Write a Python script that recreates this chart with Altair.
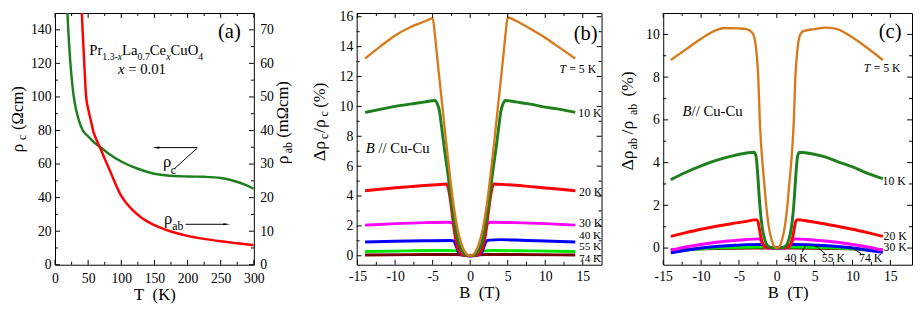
import altair as alt
import pandas as pd

FONT = "Liberation Serif"

# ---------------- panel (a): resistivity vs T ----------------
a_T_c = [18.5, 19, 20, 21, 23, 25, 28, 32, 36, 42, 50, 58, 67, 80, 100, 125, 150, 175, 200, 225, 250, 265, 280, 290, 300]
a_rho_c = [153, 148, 140, 133, 121, 112, 101, 92, 86, 80, 76.5, 73.3, 70.5, 66.5, 61.5, 57.2, 54.2, 53.0, 52.6, 52.4, 51.7, 50.5, 48.7, 47.1, 45.3]
a_T_ab = [40, 41, 42, 44, 47, 50, 54, 58, 62, 67, 75, 85, 100, 115, 130, 150, 175, 200, 225, 250, 275, 300]
a_rho_ab = [77, 72.5, 68.5, 60.5, 50, 46.5, 43, 39.6, 37.5, 35.3, 31.6, 27, 20.5, 16.7, 14.1, 11.8, 9.9, 8.6, 7.7, 7.0, 6.4, 5.8]

# ---------------- panel (b): d rho_c / rho_c (%) vs B ----------------
b5_B = [-14, -12, -10, -8, -6, -5.0, -4.7, -4.4, -4.0, -3.6, -3.2, -2.8, -2.4, -2.0, -1.6, -1.2, -0.8, -0.4, 0, 0.4, 0.8, 1.2, 1.6, 2.0, 2.4, 2.8, 3.2, 3.6, 4.0, 4.4, 4.7, 5.0, 6, 8, 10, 12, 14]
b5_v = [13.2, 14.0, 14.75, 15.3, 15.7, 15.9, 14.8, 13.3, 11.4, 9.5, 7.6, 5.8, 4.1, 2.7, 1.6, 0.85, 0.35, 0.08, 0, 0.08, 0.35, 0.85, 1.6, 2.7, 4.1, 5.8, 7.6, 9.5, 11.4, 13.3, 14.8, 15.95, 15.75, 15.2, 14.6, 13.9, 13.2]
b10_B = [-14, -12, -10, -8, -6, -4.7, -4.4, -4.1, -3.8, -3.5, -3.0, -2.5, -2.0, -1.5, -1.0, -0.5, 0, 0.5, 1.0, 1.5, 2.0, 2.5, 3.0, 3.5, 3.8, 4.1, 4.4, 4.7, 6, 8, 10, 12, 14]
b10_v = [9.6, 9.8, 10.0, 10.15, 10.3, 10.4, 10.2, 9.7, 8.6, 7.4, 5.6, 3.6, 1.9, 0.8, 0.25, 0.03, 0, 0.03, 0.25, 0.8, 1.9, 3.6, 5.6, 7.4, 8.6, 9.7, 10.2, 10.4, 10.3, 10.15, 9.95, 9.8, 9.6]
b20_B = [-14, -12, -10, -8, -6, -4, -3.2, -2.9, -2.6, -2.3, -2.0, -1.7, -1.3, -0.8, 0, 0.8, 1.3, 1.7, 2.0, 2.3, 2.6, 2.9, 3.2, 4, 6, 8, 10, 12, 14]
b20_v = [4.35, 4.45, 4.55, 4.63, 4.71, 4.77, 4.8, 4.5, 3.6, 2.4, 1.3, 0.6, 0.18, 0.03, 0, 0.03, 0.18, 0.6, 1.3, 2.4, 3.6, 4.5, 4.8, 4.78, 4.72, 4.63, 4.54, 4.45, 4.35]
b30_B = [-14, -10, -6, -3, -2.4, -2.1, -1.8, -1.5, -1.1, -0.6, 0, 0.6, 1.1, 1.5, 1.8, 2.1, 2.4, 3, 6, 10, 14]
b30_v = [2.05, 2.15, 2.22, 2.25, 2.2, 1.8, 1.0, 0.4, 0.1, 0.02, 0, 0.02, 0.1, 0.4, 1.0, 1.8, 2.2, 2.25, 2.22, 2.15, 2.05]
b40_B = [-14, -10, -6, -2.6, -2.2, -1.9, -1.6, -1.2, -0.7, 0, 0.7, 1.2, 1.6, 1.9, 2.2, 2.6, 4, 6, 10, 14]
b40_v = [0.92, 0.97, 1.0, 1.02, 1.0, 0.7, 0.3, 0.08, 0.01, 0, 0.01, 0.08, 0.3, 0.7, 1.0, 1.05, 1.08, 1.05, 0.99, 0.92]
b55_B = [-14, -8, -3, -1.8, -1.4, -1.0, -0.5, 0, 0.5, 1.0, 1.4, 1.8, 3, 8, 14]
b55_v = [0.28, 0.33, 0.35, 0.33, 0.2, 0.06, 0.01, 0, 0.01, 0.06, 0.2, 0.33, 0.35, 0.33, 0.28]
b74_B = [-14, -6, -2, -1.2, -0.6, 0, 0.6, 1.2, 2, 6, 14]
b74_v = [0.05, 0.08, 0.08, 0.06, 0.01, 0, 0.01, 0.06, 0.08, 0.08, 0.05]

# ---------------- panel (c): d rho_ab / rho_ab (%) vs B ----------------
c5_B = [-14, -12, -10, -8, -7, -5, -4, -3.3, -3.0, -2.7, -2.45, -2.25, -2.1, -1.9, -1.65, -1.4, -1.1, -0.7, -0.35, 0, 0.35, 0.7, 1.1, 1.4, 1.65, 1.9, 2.1, 2.25, 2.45, 2.7, 3.0, 3.5, 5, 6.5, 8, 10, 12, 14]
c5_v = [8.8, 9.3, 9.8, 10.2, 10.3, 10.28, 10.25, 10.1, 9.9, 9.2, 8.0, 6.0, 5.0, 4.0, 3.0, 2.0, 1.1, 0.4, 0.08, 0, 0.08, 0.4, 1.1, 2.0, 3.0, 4.0, 5.0, 6.0, 8.0, 9.2, 9.9, 10.15, 10.25, 10.32, 10.25, 9.85, 9.35, 8.8]
c10_B = [-14, -12, -10, -8, -6, -4, -3.0, -2.75, -2.55, -2.4, -2.24, -2.05, -1.8, -1.5, -1.1, -0.6, 0, 0.6, 1.1, 1.5, 1.8, 2.05, 2.24, 2.4, 2.55, 2.75, 3.0, 4, 6, 8, 10, 12, 14]
c10_v = [3.2, 3.55, 3.85, 4.1, 4.3, 4.45, 4.48, 4.3, 3.6, 2.8, 2.0, 1.3, 0.7, 0.3, 0.08, 0.01, 0, 0.01, 0.08, 0.3, 0.7, 1.3, 2.0, 2.8, 3.6, 4.3, 4.48, 4.45, 4.3, 4.05, 3.8, 3.5, 3.25]
c20_B = [-14, -12, -10, -8, -6, -4, -2.7, -2.5, -2.3, -2.1, -1.9, -1.6, -1.2, 0, 1.2, 1.6, 1.9, 2.1, 2.3, 2.5, 2.7, 4, 6, 8, 10, 12, 14]
c20_v = [0.55, 0.72, 0.88, 1.02, 1.14, 1.25, 1.33, 1.25, 0.9, 0.5, 0.25, 0.08, 0.02, 0, 0.02, 0.08, 0.25, 0.5, 0.9, 1.25, 1.33, 1.27, 1.15, 1.02, 0.88, 0.72, 0.55]
c30_B = [-14, -12, -10, -8, -6, -4, -2.4, -2.1, -1.8, -1.5, -1.0, 0, 1.0, 1.5, 1.8, 2.1, 2.4, 4, 6, 8, 10, 12, 14]
c30_v = [-0.1, 0.05, 0.17, 0.27, 0.34, 0.4, 0.43, 0.35, 0.15, 0.04, 0.0, 0, 0.0, 0.04, 0.15, 0.35, 0.43, 0.4, 0.34, 0.27, 0.17, 0.05, -0.1]
c40_B = [-14, -12, -10, -8, -6, -4, -2, -1.6, -1.2, 0, 1.2, 1.6, 2, 4, 6, 8, 10, 12, 14]
c40_v = [-0.22, -0.1, 0.0, 0.07, 0.12, 0.16, 0.17, 0.1, 0.02, 0, 0.02, 0.1, 0.17, 0.16, 0.12, 0.07, 0.0, -0.1, -0.2]
c55_B = [-14, -10, -6, -2, -1, 0, 1, 2, 6, 10, 14]
c55_v = [-0.15, -0.03, 0.03, 0.05, 0.02, 0, 0.02, 0.05, 0.03, -0.03, -0.13]
c74_B = [-14, -8, -2, 0, 2, 8, 14]
c74_v = [-0.08, -0.02, 0.0, 0, 0.0, -0.02, -0.08]

# curve labels (text, B, value)
b_lab_text = ["10 K", "20 K", "30 K"]
b_lab_B = [14.4, 14.5, 14.5]
b_lab_v = [9.53, 4.24, 2.2]
b_lab2_text = ["40 K", "55 K", "74 K"]
b_lab2_B = [14.5, 14.5, 14.5]
b_lab2_v = [1.32, 0.56, -0.22]
b_T5_pos = [11.9, 12.5]

c_lab_text = ["10 K", "20 K", "30 K", "40 K", "55 K", "74 K"]
c_lab_B = [13.97, 14.1, 14.1, 1.03, 5.95, 10.87]
c_lab_v = [3.13, 0.58, 0.04, -0.48, -0.48, -0.48]
c_T5_pos = [11.5, 8.41]

# pointer arrows in (c): start (B, v) -> end (B, v)
c_arr_B1 = [3.36, 6.38, 11.13]
c_arr_v1 = [-0.18, -0.26, -0.26]
c_arr_B2 = [3.79, 5.08, 9.75]
c_arr_v2 = [0.12, 0.12, 0.05]
c_arr_ang = [27, 310, 302]

# annotation arrows of panel (a): rho_c arrow (two segments) and rho_ab arrow
a_arr_T1 = [179.2, 214.6, 196.9]
a_arr_v1 = [56.9, 69.8, 24.1]
a_arr_T2 = [214.6, 154.0, 257.5]
a_arr_v2 = [69.5, 69.8, 24.1]

COLORS = {"5": "#d77a1c", "10": "#1d7f1d", "20": "#ff0000", "30": "#ff00ff",
          "40": "#0000ff", "55": "#00e600", "74": "#7a0000"}

H = 257  # plot height shared by the three panels


# ---------------- helpers ----------------
def ptext(s, x, y, size, style="normal", angle=0, align="left", baseline="alphabetic"):
    return alt.Chart(pd.DataFrame({"s": [s]})).mark_text(
        font=FONT, fontSize=size, fontStyle=style, angle=angle, align=align,
        baseline=baseline, color="black").encode(x=alt.value(x), y=alt.value(y), text="s:N")


AX = dict(ticks=False, domain=False, grid=False, labelFont=FONT, labelFontSize=14,
          labelColor="black", titleFont=FONT, titleFontSize=17, titleFontWeight="normal",
          titleColor="black", labelExpr="datum.value", labelFlush=False, labelOverlap=False)


def xaxis(vals, title, pad=5):
    return alt.Axis(values=vals, title=title, labelPadding=pad, titlePadding=1, **AX)


def yaxis(vals, orient="left", pad=4):
    return alt.Axis(values=vals, title=None, labelPadding=pad, orient=orient, **AX)


class Panel:
    def __init__(self, xf, xs, xax, yf, ys, yax):
        self.xf, self.xs, self.xax, self.yf, self.ys, self.yax = xf, xs, xax, yf, ys, yax

    def X(self, field=None):
        return alt.X(f"{field or self.xf}:Q", scale=self.xs, axis=self.xax)

    def Y(self, field=None):
        return alt.Y(f"{field or self.yf}:Q", scale=self.ys, axis=self.yax)

    def ticks(self, xvals, yvals, W, Hh):
        layers = []
        for vals, size in xvals:
            base = alt.Chart(pd.DataFrame({self.xf: vals})).mark_rule(color="black", strokeWidth=1)
            layers.append(base.encode(x=self.X(), y=alt.value(Hh), y2=alt.value(Hh - size)))
            layers.append(base.encode(x=self.X(), y=alt.value(0), y2=alt.value(size)))
        for vals, size in yvals:
            base = alt.Chart(pd.DataFrame({self.yf: vals})).mark_rule(color="black", strokeWidth=1)
            layers.append(base.encode(y=self.Y(), x=alt.value(0), x2=alt.value(size)))
            layers.append(base.encode(y=self.Y(), x=alt.value(W), x2=alt.value(W - size)))
        return layers

    def curve(self, xs_, ys_, color, width=3.0):
        df = pd.DataFrame({self.xf: xs_, self.yf: ys_})
        return alt.Chart(df).mark_line(color=color, strokeWidth=width, clip=True,
                                       interpolate="monotone").encode(x=self.X(), y=self.Y())

    def labels(self, texts, xs_, ys_, size=12, style="normal", dx=0, align="left", baseline="middle"):
        df = pd.DataFrame({"t": texts, self.xf: xs_, self.yf: ys_})
        return alt.Chart(df).mark_text(font=FONT, fontSize=size, fontStyle=style, align=align,
                                       baseline=baseline, dx=dx, color="black").encode(
            x=self.X(), y=self.Y(), text="t:N")

    def arrows(self, x1, y1, x2, y2, ang, head_size, heads_from=0):
        df = pd.DataFrame({self.xf: x1, self.yf: y1, "x2": x2, "y2": y2})
        rules = alt.Chart(df).mark_rule(color="black", strokeWidth=1).encode(
            x=self.X(), x2="x2:Q", y=self.Y(), y2="y2:Q")
        hdf = pd.DataFrame({self.xf: x2[heads_from:], self.yf: y2[heads_from:], "ang": ang[heads_from:]})
        heads = alt.Chart(hdf).mark_point(shape="wedge", filled=True, size=head_size,
                                          color="black", opacity=1).encode(
            x=self.X(), y=self.Y(), angle=alt.Angle("ang:Q", scale=None))
        return [rules, heads]


# ---------------- panel (a) ----------------
WA = 203
PA = Panel("T", alt.Scale(domain=[0, 300], nice=False, zero=False),
           xaxis(list(range(0, 301, 50)), "T\u00a0\u00a0(K)", pad=7),
           "v", alt.Scale(domain=[0, 150], nice=False, zero=False),
           yaxis(list(range(0, 141, 20))))
ys_a2 = alt.Scale(domain=[0, 75], nice=False, zero=False)

green_a = PA.curve(a_T_c, a_rho_c, "#1d7f1d", 2.5)
red_a = alt.Chart(pd.DataFrame({"T": a_T_ab, "r": a_rho_ab})).mark_line(
    color="#ff0000", strokeWidth=2.5, clip=True, interpolate="monotone").encode(
    x=PA.X(), y=alt.Y("r:Q", scale=ys_a2, axis=yaxis(list(range(0, 71, 10)), orient="right", pad=6)))

ticks_a = PA.ticks([(list(range(0, 301, 50)), 5), (list(range(25, 300, 50)), 3)],
                   [(list(range(0, 141, 20)), 5), (list(range(10, 150, 20)), 3)], WA, H)
arrows_a = PA.arrows(a_arr_T1, a_arr_v1, a_arr_T2, a_arr_v2, [0, 270, 90], 70, heads_from=1)

texts_a = [
    PA.labels(["\u03c1"], [162.9], [58.0], size=17, baseline="alphabetic"),
    PA.labels(["c"], [174.8], [54.0], size=12, baseline="alphabetic"),
    PA.labels(["\u03c1"], [164.4], [24.4], size=17, baseline="alphabetic"),
    PA.labels(["ab"], [176.8], [20.7], size=12, baseline="alphabetic"),
    ptext("(a)", 178, 26, 21, align="center"),
    ptext("Pr", 35, 43, 15), ptext("1.3-", 48.3, 48, 10), ptext("x", 64.1, 48, 10, "italic"),
    ptext("La", 68.5, 43, 15), ptext("0.7", 84.3, 48, 10), ptext("Ce", 96.8, 43, 15),
    ptext("x", 113.5, 48, 10, "italic"), ptext("CuO", 117.9, 43, 15), ptext("4", 146.2, 48, 10),
    ptext("x", 64.3, 62, 15, "italic"), ptext("= 0.01", 74.7, 62, 15),
    # left axis title  rho_c (Ohm cm)
    ptext("\u03c1", -33, 138, 18, angle=270, align="center"),
    ptext("c", -29.5, 127, 12, angle=270, align="center"),
    ptext("(\u03a9cm)", -33, 97, 17, angle=270, align="center"),
    # right axis title rho_ab (mOhm cm)
    ptext("\u03c1", 238.3, 150, 18, angle=270, align="center"),
    ptext("ab", 241.8, 137.5, 12, angle=270, align="center"),
    ptext("(m\u03a9cm)", 238.3, 98.5, 17, angle=270, align="center"),
]

left_a = alt.layer(green_a, *ticks_a, *arrows_a, *texts_a)
panel_a = alt.layer(left_a, red_a).resolve_scale(y="independent").properties(width=WA, height=H)

# ---------------- panel (b) ----------------
WB = 250
bx_vals = [-15, -10, -5, 0, 5, 10, 15]
PB = Panel("B", alt.Scale(domain=[-15.12, 17.5], nice=False, zero=False),
           xaxis(bx_vals, "B\u00a0\u00a0(T)"),
           "v", alt.Scale(domain=[-0.6, 16.25], nice=False, zero=False),
           yaxis(list(range(0, 17, 2))))
b_series = [("74", b74_B, b74_v), ("55", b55_B, b55_v), ("40", b40_B, b40_v), ("30", b30_B, b30_v),
            ("20", b20_B, b20_v), ("10", b10_B, b10_v), ("5", b5_B, b5_v)]
b_layers = [PB.curve(B, v, COLORS[k], 2.4 if k == "5" else 3.0) for k, B, v in b_series]
b_layers += PB.ticks([(bx_vals, 5), ([-12.5, -7.5, -2.5, 2.5, 7.5, 12.5], 3)],
                     [(list(range(0, 17, 2)), 5), (list(range(1, 16, 2)), 3)], WB, H)
b_layers += [
    PB.labels(b_lab_text, b_lab_B, b_lab_v),
    PB.labels(b_lab2_text, b_lab2_B, b_lab2_v, size=11.5),
    PB.labels(["T"], [b_T5_pos[0]], [b_T5_pos[1]], style="italic"),
    PB.labels(["= 5 K"], [b_T5_pos[0]], [b_T5_pos[1]], dx=10),
    ptext("(b)", 233.8, 28, 21, align="center"),
    ptext("B", 9.3, 143, 15, "italic"), ptext("// Cu-Cu", 22.3, 143, 15),
    ptext("\u0394\u03c1", -32.7, 141, 18, angle=270, align="center"),
    ptext("c", -29, 126, 12, angle=270, align="center"),
    ptext("/\u03c1", -32.7, 115.5, 18, angle=270, align="center"),
    ptext("c", -29, 103, 12, angle=270, align="center"),
    ptext("(%)", -32.7, 84, 17, angle=270, align="center"),
]
panel_b = alt.layer(*b_layers).properties(width=WB, height=H)

# ---------------- panel (c) ----------------
WC = 254
PC = Panel("B", alt.Scale(domain=[-15, 17.86], nice=False, zero=False),
           xaxis(bx_vals, "B\u00a0\u00a0(T)"),
           "v", alt.Scale(domain=[-0.78, 11.0], nice=False, zero=False),
           yaxis(list(range(0, 11, 2))))
c_series = [("74", c74_B, c74_v), ("55", c55_B, c55_v), ("40", c40_B, c40_v), ("30", c30_B, c30_v),
            ("20", c20_B, c20_v), ("10", c10_B, c10_v), ("5", c5_B, c5_v)]
c_layers = [PC.curve(B, v, COLORS[k], 2.4 if k == "5" else 3.0) for k, B, v in c_series]
c_layers += PC.ticks([(bx_vals, 5), ([-12.5, -7.5, -2.5, 2.5, 7.5, 12.5], 3)],
                     [(list(range(0, 11, 2)), 5), (list(range(1, 11, 2)), 3)], WC, H)
c_layers += PC.arrows(c_arr_B1, c_arr_v1, c_arr_B2, c_arr_v2, c_arr_ang, 22)
c_layers += [
    PC.labels(c_lab_text, c_lab_B, c_lab_v),
    PC.labels(["T"], [c_T5_pos[0]], [c_T5_pos[1]], style="italic"),
    PC.labels(["= 5 K"], [c_T5_pos[0]], [c_T5_pos[1]], dx=10),
    ptext("(c)", 231.7, 25, 21, align="center"),
    ptext("B", 19.7, 105, 15, "italic"), ptext("// Cu-Cu", 28.9, 105, 15),
    ptext("\u0394\u03c1", -31.3, 150.5, 18, angle=270, align="center"),
    ptext("ab", -27.3, 133.5, 12, angle=270, align="center"),
    ptext("/\u03c1", -31.3, 117, 18, angle=270, align="center"),
    ptext("ab", -27.3, 98.5, 12, angle=270, align="center"),
    ptext("(%)", -31.3, 72.5, 17, angle=270, align="center"),
]
panel_c = alt.layer(*c_layers).properties(width=WC, height=H)

chart = alt.hconcat(panel_a, panel_b, panel_c, spacing=15).properties(
    padding={"left": 0, "top": -2, "right": 0, "bottom": 0}, background="white"
).configure_view(stroke="black", strokeWidth=1)

chart.save("out.html", embed_options={"renderer": "svg", "actions": False})
